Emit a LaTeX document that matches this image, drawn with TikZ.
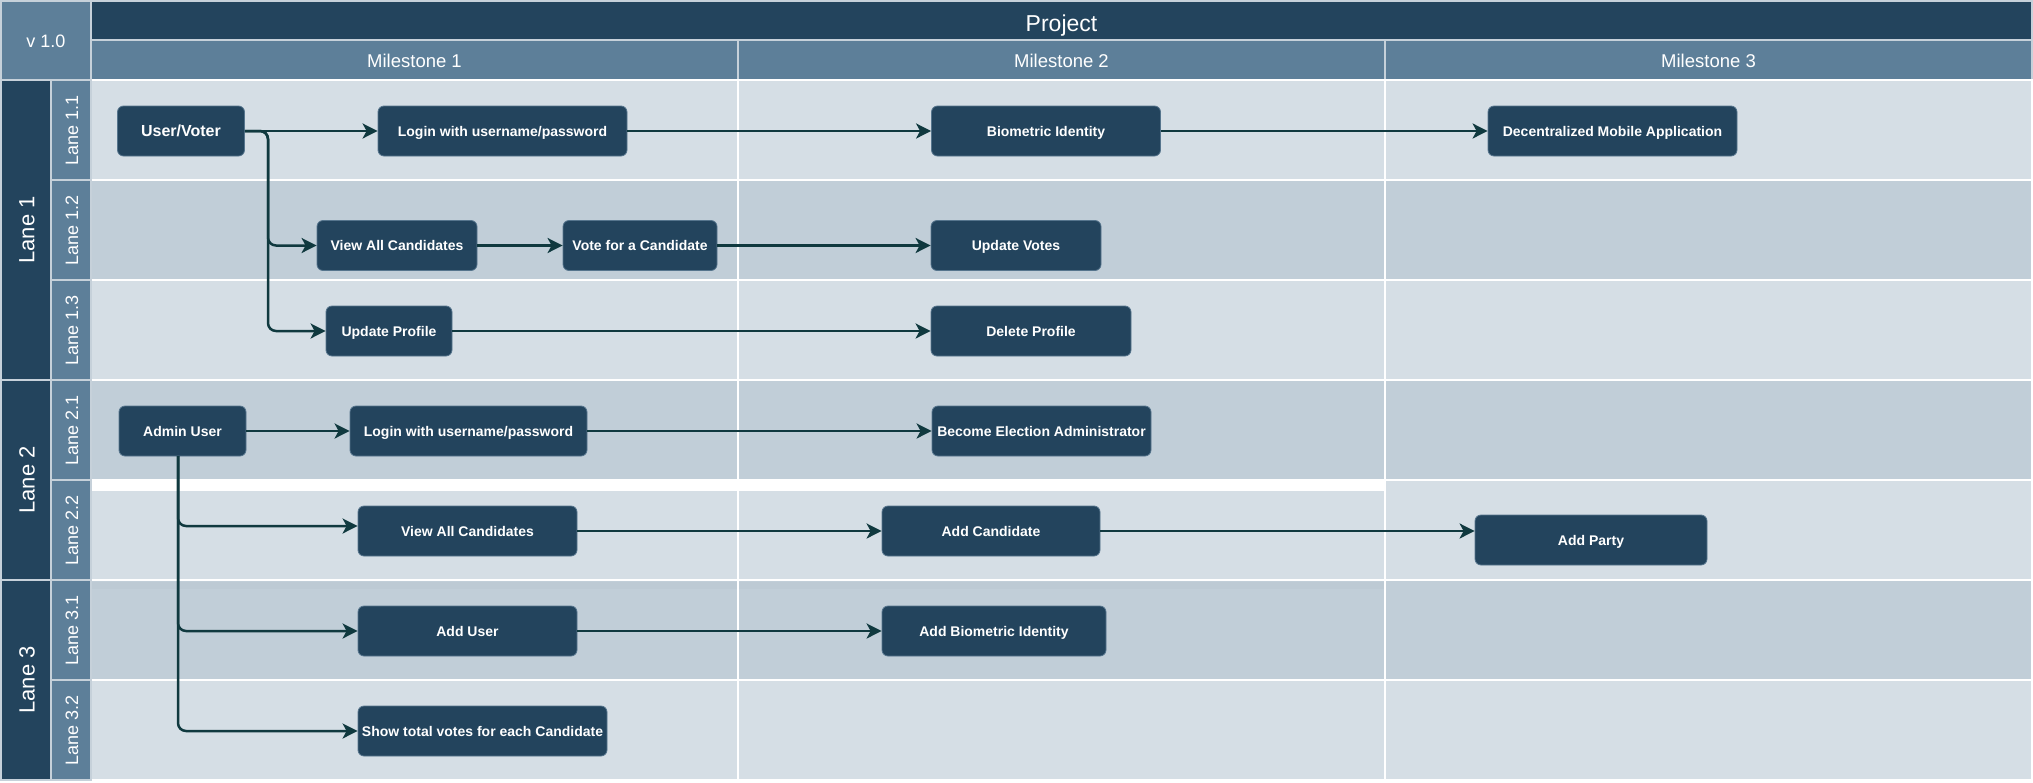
\documentclass[tikz,border=0pt]{standalone}
\usepackage{fontspec}
\setmainfont{Liberation Sans}
\usetikzlibrary{arrows.meta,calc}

\definecolor{navy}{HTML}{23445D}
\definecolor{steel}{HTML}{5D7F99}
\definecolor{rowlight}{HTML}{D5DEE5}
\definecolor{rowdark}{HTML}{C1CED8}
\definecolor{rowseam}{HTML}{BDCAD4}
\definecolor{hdrline}{HTML}{C6D1DA}
\definecolor{boxrim}{HTML}{56758D}
\definecolor{flowline}{HTML}{10393F}

\begin{document}
\begin{tikzpicture}[x=1pt,y=-1pt,
  hdrcell/.style={draw=hdrline,line width=2pt},
  gridcell/.style={draw=white,line width=2pt},
  hdrtext/.style={text=white,inner sep=0pt},
  lanetext/.style={text=white,inner sep=0pt,rotate=90},
  task/.style={rectangle,rounded corners=6pt,fill=navy,draw=boxrim,line width=0.8pt,
    text=white,font=\bfseries\fontsize{14}{16}\selectfont,inner sep=0pt,align=center,
    minimum height=50pt,text height=10.5pt,text depth=0pt},
  flow/.style={draw=flowline,line width=2.5pt,rounded corners=8pt,
    -{Stealth[length=15pt,width=15pt,inset=4pt]}},
]
\useasboundingbox (0,0) rectangle (2033,782);
\fill[white] (0,0) rectangle (2033,782);

% ---------- header ----------
\draw[hdrcell,fill=steel] (1,1) rectangle (91,80);
\node[hdrtext,font=\fontsize{18}{20}\selectfont,text height=13pt,text depth=0pt] (ver) at (46,41) {v 1.0};
\draw[hdrcell,fill=navy] (91,1) rectangle (2032,40);
\node[hdrtext,font=\fontsize{23}{26}\selectfont,text height=16.5pt,text depth=0pt] (proj) at (1061.5,23) {Project};
\foreach \c/\lbl in {0/Milestone 1,1/Milestone 2,2/Milestone 3}{
  \draw[hdrcell,fill=steel] ({91+647*\c},40) rectangle ({91+647*(\c+1)},80);
  \node[hdrtext,font=\fontsize{18.5}{20}\selectfont,text height=13.3pt,text depth=0pt] (ms\c) at ({91+647*\c+323.5},61) {\lbl};
}

% ---------- content cells ----------
\foreach \r/\fc in {0/rowlight,1/rowdark,2/rowlight,3/rowdark,5/rowdark,6/rowlight}{
  \foreach \c in {0,1,2}{
    \draw[gridcell,fill=\fc] ({91+647*\c},{80+100*\r}) rectangle ({91+647*(\c+1)},{180+100*\r});
  }
}
% Lane 2.2: first two milestone cells sit a little lower
\foreach \c in {0,1}{
  \draw[gridcell,fill=rowlight] ({91+647*\c},490) rectangle ({91+647*(\c+1)},580);
}
\draw[gridcell,fill=rowlight] (1385,480) rectangle (2032,580);
\fill[rowseam] (92,582) rectangle (737,589);
\fill[rowseam] (739,582) rectangle (1384,589);

% ---------- lane labels ----------
\foreach \y/\h/\lbl in {80/300/Lane 1,380/200/Lane 2,580/200/Lane 3}{
  \draw[hdrcell,fill=navy] (1,\y) rectangle (51,{\y+\h});
  \node[lanetext,font=\fontsize{22}{24}\selectfont] at (27,{\y+\h/2}) {\lbl};
}
\foreach \r/\lbl in {0/Lane 1.1,1/Lane 1.2,2/Lane 1.3,3/Lane 2.1,4/Lane 2.2,5/Lane 3.1,6/Lane 3.2}{
  \draw[hdrcell,fill=steel] (51,{80+100*\r}) rectangle (91,{180+100*\r});
  \node[lanetext,font=\fontsize{18}{20}\selectfont] at (72,{130+100*\r}) {\lbl};
}

% ---------- tasks ----------
\node[task,minimum width=127pt,font=\bfseries\fontsize{16}{18}\selectfont,text height=11.5pt] (uv) at (181,131) {User/Voter};
\node[task,minimum width=249pt] (login1) at (502.5,131) {Login with username/password};
\node[task,minimum width=229pt] (bio) at (1046,131) {Biometric Identity};
\node[task,minimum width=249pt] (dma) at (1612.5,131) {Decentralized Mobile Application};

\node[task,minimum width=160pt] (vac1) at (397,245.5) {View All Candidates};
\node[task,minimum width=154pt] (vote) at (640,245.5) {Vote for a Candidate};
\node[task,minimum width=170pt] (upvotes) at (1016,245.5) {Update Votes};

\node[task,minimum width=126pt] (upprof) at (389,331) {Update Profile};
\node[task,minimum width=200pt] (delprof) at (1031,331) {Delete Profile};

\node[task,minimum width=127pt] (admin) at (182.5,431) {Admin User};
\node[task,minimum width=237pt] (login2) at (468.5,431) {Login with username/password};
\node[task,minimum width=219pt] (bea) at (1041.5,431) {Become Election Administrator};

\node[task,minimum width=219pt] (vac2) at (467.5,531) {View All Candidates};
\node[task,minimum width=218pt] (addcand) at (991,531) {Add Candidate};
\node[task,minimum width=232pt] (party) at (1591,540) {Add Party};

\node[task,minimum width=219pt] (adduser) at (467.5,631) {Add User};
\node[task,minimum width=224pt] (addbio) at (994,631) {Add Biometric Identity};

\node[task,minimum width=249pt] (showvotes) at (482.5,731) {Show total votes for each Candidate};

% ---------- connectors ----------
\coordinate (uvturn) at (268,131);
\coordinate (adminturn) at (178,456);

\draw[flow] (uv.east) -- (login1.west);
\draw[flow] (uv.east) -- (uvturn) |- (vac1.west);
\draw[flow] (uv.east) -- (uvturn) |- (upprof.west);
\draw[flow] (login1.east) -- (bio.west);
\draw[flow] (bio.east) -- (dma.west);

\draw[flow] (vac1.east) -- (vote.west);
\draw[flow] (vote.east) -- (upvotes.west);
\draw[flow] (upprof.east) -- (delprof.west);

\draw[flow] (admin.east) -- (login2.west);
\draw[flow] (login2.east) -- (bea.west);
\draw[flow] (adminturn) |- ($(vac2.west)+(0,-5)$);
\draw[flow] (adminturn) |- (adduser.west);
\draw[flow] (adminturn) |- (showvotes.west);

\draw[flow] (vac2.east) -- (addcand.west);
\draw[flow] (addcand.east) -- (addcand.east -| party.west);
\draw[flow] (adduser.east) -- (addbio.west);
\end{tikzpicture}
\end{document}
